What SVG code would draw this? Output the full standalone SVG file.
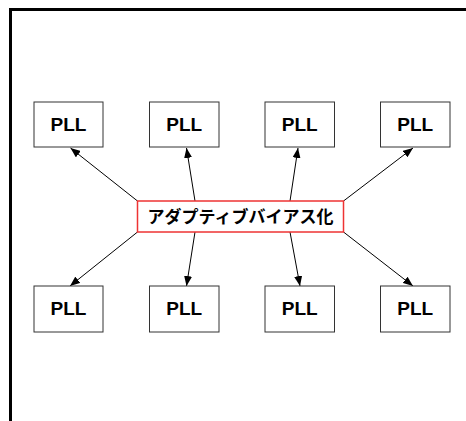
<svg xmlns="http://www.w3.org/2000/svg" width="466" height="421" viewBox="0 0 466 421">
<style>
.pll rect{fill:#fff;stroke:#333;stroke-width:1}
.pll text{font-family:"Liberation Sans",Arial,sans-serif;font-weight:bold;font-size:19px;text-anchor:middle;fill:#000}
.conn line{stroke:#000;stroke-width:1;marker-end:url(#ah)}
</style>
<defs>
<marker id="ah" viewBox="0 0 10 8" refX="10" refY="4" markerWidth="10" markerHeight="8" markerUnits="userSpaceOnUse" orient="auto">
<path d="M0,0 L10,4 L0,8 z" fill="#000"/>
</marker>
</defs>
<rect width="466" height="421" fill="#fff"/>
<path id="frame" d="M10.5,421 V9.5 H466" fill="none" stroke="#000" stroke-width="3"/>
<g class="conn">
<line x1="137.5" y1="201" x2="70.5" y2="148"/>
<line x1="195" y1="201" x2="186.5" y2="148"/>
<line x1="290" y1="201" x2="298" y2="148"/>
<line x1="343.5" y1="201" x2="413" y2="148"/>
<line x1="137.5" y1="232" x2="70" y2="286"/>
<line x1="195" y1="232" x2="186.5" y2="286"/>
<line x1="290" y1="232" x2="300" y2="286"/>
<line x1="343.5" y1="232" x2="413" y2="286"/>
</g>
<g id="center">
<rect x="137.5" y="201" width="206" height="31" fill="#fff" stroke="#e33" stroke-width="1.5"/>
<text x="240.5" y="223" font-family="'Noto Sans CJK JP',sans-serif" font-weight="bold" font-size="17" text-anchor="middle" fill="#000">アダプティブバイアス化</text>
</g>
<g id="pll1" class="pll"><rect x="34" y="102" width="69" height="45"/><text x="68.5" y="131">PLL</text></g>
<g id="pll2" class="pll"><rect x="149.5" y="102" width="69.5" height="45"/><text x="184.3" y="131">PLL</text></g>
<g id="pll3" class="pll"><rect x="265" y="102" width="69.5" height="45"/><text x="299.8" y="131">PLL</text></g>
<g id="pll4" class="pll"><rect x="380.5" y="102" width="69.5" height="45"/><text x="415.3" y="131">PLL</text></g>
<g id="pll5" class="pll"><rect x="34" y="286" width="69" height="46"/><text x="68.5" y="315">PLL</text></g>
<g id="pll6" class="pll"><rect x="149.5" y="286" width="69.5" height="46"/><text x="184.3" y="315">PLL</text></g>
<g id="pll7" class="pll"><rect x="265" y="286" width="69.5" height="46"/><text x="299.8" y="315">PLL</text></g>
<g id="pll8" class="pll"><rect x="380.5" y="286" width="69.5" height="46"/><text x="415.3" y="315">PLL</text></g>
</svg>
